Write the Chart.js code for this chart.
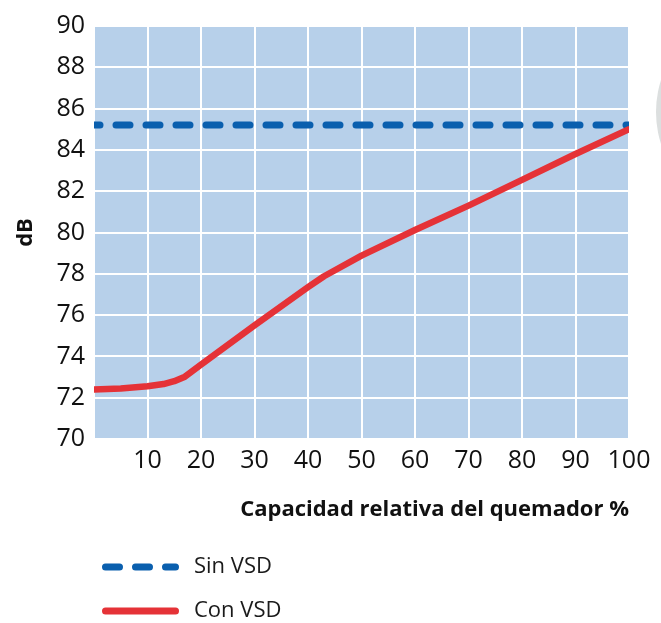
<!DOCTYPE html>
<html>
<head>
<meta charset="utf-8">
<script src="https://cdn.jsdelivr.net/npm/chart.js@4"></script>
<style>
  html, body { margin: 0; padding: 0; background: #fff; }
</style>
</head>
<body>
<canvas id="myChart" width="661" height="623"></canvas>
<script>
"use strict";

// Data
const capacity = [0, 5, 10, 13, 15, 17, 20, 30, 40, 43, 50, 60, 70, 80, 90, 100];
const conVsd = [72.4, 72.45, 72.55, 72.66, 72.8, 73.02, 73.6, 75.5, 77.35, 77.88, 78.88, 80.12, 81.3, 82.55, 83.8, 85.0];
const sinVsdX = [0, 100];
const sinVsd = [85.2, 85.2];
const seriesNames = ["Sin VSD", "Con VSD"];

const xTitle = "Capacidad relativa del quemador %";
const yTitle = "dB";

const FONT = "'Open Sans', 'Noto Sans', sans-serif";

// plot background + grey shape on the right edge
const backgroundPlugin = {
    id: "plotBackground",
    beforeDraw(chart) {
        const { ctx, chartArea } = chart;
        ctx.save();
        ctx.fillStyle = "#b7d0ea";
        ctx.fillRect(chartArea.left, chartArea.top, chartArea.right - chartArea.left, chartArea.bottom - chartArea.top);
        ctx.fillStyle = "#dcdfdf";
        ctx.beginPath();
        ctx.arc(761, 112, 105, 0, Math.PI * 2);
        ctx.fill();
        ctx.restore();
    },
};

// legend stacked under the chart
const legendPlugin = {
    id: "stackedLegend",
    afterDraw(chart) {
        const ctx = chart.ctx;
        chart.data.datasets.forEach((ds, i) => {
            const y = 567 + i * 44;
            ctx.save();
            ctx.strokeStyle = ds.borderColor;
            ctx.lineWidth = 7;
            ctx.lineCap = "round";
            ctx.setLineDash(ds.borderDash || []);
            ctx.beginPath();
            ctx.moveTo(105.5, y);
            ctx.lineTo(175.5, y);
            ctx.stroke();
            ctx.setLineDash([]);
            ctx.fillStyle = "#1a1a1a";
            ctx.font = "22px " + FONT;
            ctx.textBaseline = "middle";
            ctx.fillText(ds.label, 194, y);
            ctx.restore();
        });
    },
};

const data = {
    datasets: [
        {
            label: seriesNames[0],
            data: sinVsdX.map((x, i) => ({ x: x, y: sinVsd[i] })),
            borderColor: "#0a5fae",
            borderWidth: 7,
            borderDash: [14, 16],
            borderDashOffset: 8,
            borderCapStyle: "round",
            pointRadius: 0,
            order: 1,
        },
        {
            label: seriesNames[1],
            data: capacity.map((x, i) => ({ x: x, y: conVsd[i] })),
            borderColor: "#e53237",
            borderWidth: 6.5,
            borderCapStyle: "round",
            borderJoinStyle: "round",
            tension: 0,
            pointRadius: 0,
            order: 0,
        },
    ],
};

const config = {
    type: "line",
    data: data,
    options: {
        responsive: false,
        animation: false,
        layout: {
            padding: { top: 26, right: 32, bottom: 99, left: 0 },
        },
        plugins: {
            legend: { display: false },
            tooltip: { enabled: false },
        },
        scales: {
            x: {
                type: "linear",
                min: 0,
                max: 100,
                border: { display: false },
                grid: { color: "#ffffff", lineWidth: 2, drawTicks: false },
                ticks: {
                    stepSize: 10,
                    padding: 7,
                    color: "#111",
                    font: { family: FONT, size: 25 },
                    callback: (v) => (v === 0 ? "" : v),
                },
                title: {
                    display: true,
                    text: xTitle,
                    align: "end",
                    color: "#111",
                    font: { family: FONT, size: 22, weight: "bold" },
                    padding: { top: 0, bottom: 1 },
                },
                afterFit(scale) {
                    scale.height = 85;
                },
            },
            y: {
                min: 70,
                max: 90,
                border: { display: false },
                grid: { color: "#ffffff", lineWidth: 2, drawTicks: false },
                ticks: {
                    stepSize: 2,
                    padding: 9,
                    color: "#111",
                    font: { family: FONT, size: 25 },
                },
                title: {
                    display: true,
                    text: yTitle,
                    color: "#111",
                    font: { family: FONT, size: 22, weight: "bold" },
                    padding: { top: 13, bottom: 0 },
                },
                afterFit(scale) {
                    scale.width = 94;
                },
            },
        },
    },
    plugins: [backgroundPlugin, legendPlugin],
};

const myChart = new Chart(document.getElementById("myChart"), config);
</script>
</body>
</html>
